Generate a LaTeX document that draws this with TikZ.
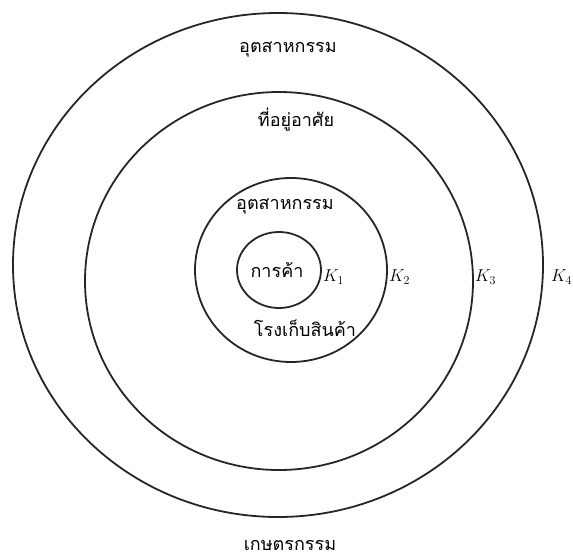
\documentclass[tikz,border=0pt]{standalone}
\usepackage{fontspec}
\newfontfamily\thaifont[Script=Thai]{Loma}
\begin{document}
\begin{tikzpicture}[x=1pt,y=-1pt,
  ring/.style={draw=black!85,line width=1.8pt},
  zone/.style={font=\thaifont\fontsize{18}{20}\selectfont,inner sep=0pt},
  klab/.style={font=\fontsize{18}{20}\selectfont,inner sep=0pt}]
\useasboundingbox (0,0) rectangle (573,557);
\draw[ring] (278,265) ellipse [x radius=265,y radius=252];
\draw[ring] (279,281) ellipse [x radius=194,y radius=189];
\draw[ring] (291,270) ellipse [x radius=96,y radius=92];
\draw[ring] (279,270) ellipse [x radius=42,y radius=38];
\node[zone] (z1) at (288,50) {อุตสาหกรรม};
\node[zone] (z2) at (296,120) {ที่อยู่อาศัย};
\node[zone] (z3) at (285,207) {อุตสาหกรรม};
\node[zone] (z4) at (277,270) {การค้า};
\node[zone] (z5) at (305,328) {โรงเก็บสินค้า};
\node[zone] (z6) at (290,545) {เกษตรกรรม};
\node[klab,anchor=west] (k1) at (323,277) {$K_1$};
\node[klab,anchor=west] (k2) at (389,277) {$K_2$};
\node[klab,anchor=west] (k3) at (475,277) {$K_3$};
\node[klab,anchor=west] (k4) at (551,277) {$K_4$};
\end{tikzpicture}
\end{document}
